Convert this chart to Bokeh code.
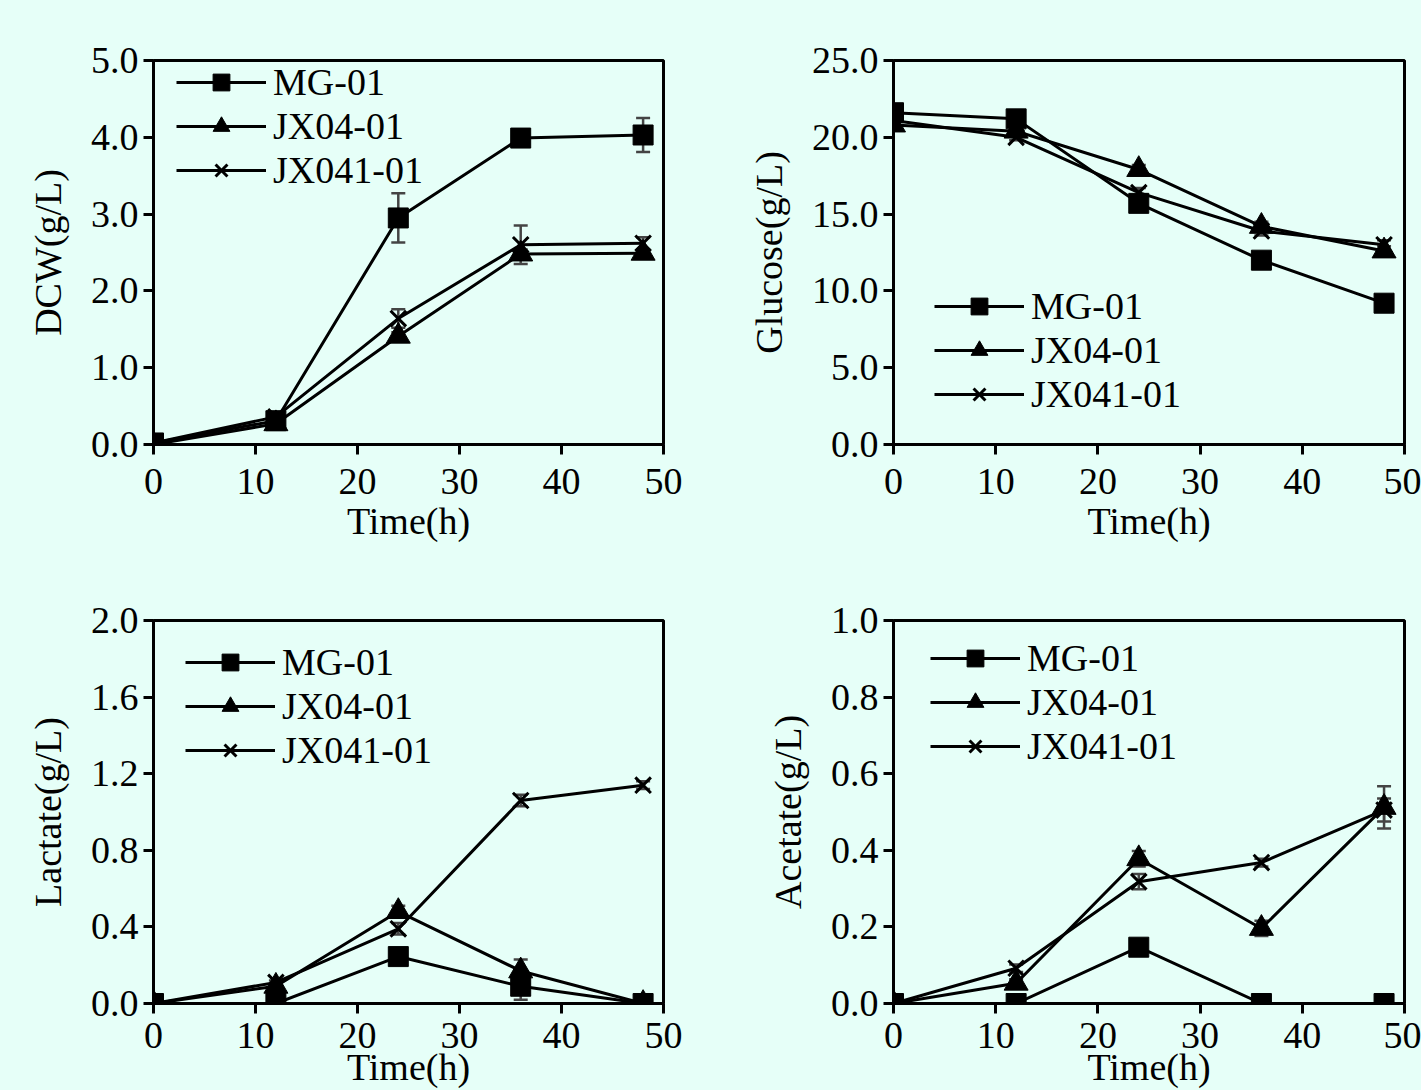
from bokeh.plotting import figure
from bokeh.layouts import gridplot
from bokeh.models import (Range1d, FixedTicker, ColumnDataSource, Whisker, TeeHead,
                          Legend, LegendItem)
from bokeh.embed import file_html
from bokeh.resources import INLINE

# ---------------- data ----------------
time_h = [0, 12, 24, 36, 48]
series_names = ["MG-01", "JX04-01", "JX041-01"]
x_ticks = [0, 10, 20, 30, 40, 50]
x_tick_labels = ["0", "10", "20", "30", "40", "50"]
x_label = "Time(h)"

dcw_mg = [0.02, 0.31, 2.95, 3.99, 4.03]
dcw_jx04 = [0.0, 0.27, 1.41, 2.48, 2.49]
dcw_jx041 = [0.02, 0.36, 1.64, 2.60, 2.62]
dcw_err_mg = [0, 0, 0.32, 0.06, 0.22]
dcw_err_jx04 = [0, 0, 0.05, 0.06, 0.05]
dcw_err_jx041 = [0, 0, 0.12, 0.25, 0.08]
dcw_ticks = [0, 1, 2, 3, 4, 5]
dcw_tick_labels = ["0.0", "1.0", "2.0", "3.0", "4.0", "5.0"]

glc_mg = [21.6, 21.2, 15.7, 12.0, 9.2]
glc_jx04 = [20.8, 20.4, 17.9, 14.2, 12.6]
glc_jx041 = [21.1, 20.0, 16.4, 13.9, 13.0]
glc_err_mg = [0, 0.2, 0.3, 0.3, 0.3]
glc_err_jx04 = [0, 0.2, 0.3, 0.3, 0.3]
glc_err_jx041 = [0, 0.2, 0.3, 0.3, 0.3]
glc_ticks = [0, 5, 10, 15, 20, 25]
glc_tick_labels = ["0.0", "5.0", "10.0", "15.0", "20.0", "25.0"]

lac_mg = [0.0, 0.0, 0.245, 0.09, 0.0]
lac_jx04 = [0.0, 0.09, 0.48, 0.17, 0.0]
lac_jx041 = [0.0, 0.11, 0.39, 1.06, 1.14]
lac_err_mg = [0, 0, 0.02, 0.07, 0]
lac_err_jx04 = [0, 0.01, 0.03, 0.06, 0]
lac_err_jx041 = [0, 0.01, 0.03, 0.03, 0.02]
lac_ticks = [0, 0.4, 0.8, 1.2, 1.6, 2.0]
lac_tick_labels = ["0.0", "0.4", "0.8", "1.2", "1.6", "2.0"]

ace_mg = [0.0, 0.0, 0.147, 0.0, 0.0]
ace_jx04 = [0.0, 0.053, 0.378, 0.196, 0.512]
ace_jx041 = [0.0, 0.092, 0.318, 0.368, 0.505]
ace_err_mg = [0, 0, 0.01, 0, 0]
ace_err_jx04 = [0, 0.01, 0.02, 0.02, 0.055]
ace_err_jx041 = [0, 0.01, 0.02, 0.01, 0.03]
ace_ticks = [0, 0.2, 0.4, 0.6, 0.8, 1.0]
ace_tick_labels = ["0.0", "0.2", "0.4", "0.6", "0.8", "1.0"]

# ---------------- style ----------------
BG = "#E6FFF8"
FONT = "Liberation Serif"
FS = "38px"
ERR = "#444444"
markers = ["square", "triangle", "x"]
marker_sizes = [20, 24, 22]


def panel(width, height, borders, y_max, y_ticks, y_tick_labels, y_label,
          values, errors, legend_loc, xtick_standoff, xlabel_standoff):
    left, right, top, bottom = borders
    p = figure(width=width, height=height, x_range=Range1d(0, 50), y_range=Range1d(0, y_max),
               output_backend="svg", toolbar_location=None,
               min_border_left=left, min_border_right=right,
               min_border_top=top, min_border_bottom=bottom,
               background_fill_color=BG, border_fill_color=BG,
               outline_line_color="black", outline_line_width=3)
    p.grid.visible = False
    p.xaxis.ticker = FixedTicker(ticks=x_ticks)
    p.xaxis.major_label_overrides = {t: l for t, l in zip(x_ticks, x_tick_labels)}
    p.yaxis.ticker = FixedTicker(ticks=y_ticks)
    p.yaxis.major_label_overrides = {t: l for t, l in zip(y_ticks, y_tick_labels)}
    for ax in (p.xaxis[0], p.yaxis[0]):
        ax.axis_line_width = 3
        ax.axis_line_color = "black"
        ax.major_tick_line_width = 3
        ax.major_tick_line_color = "black"
        ax.major_tick_out = 10
        ax.major_tick_in = 0
        ax.minor_tick_line_color = None
        ax.major_label_text_font = FONT
        ax.major_label_text_font_size = FS
        ax.major_label_text_color = "black"
        ax.axis_label_text_font = FONT
        ax.axis_label_text_font_size = FS
        ax.axis_label_text_font_style = "normal"
        ax.axis_label_text_color = "black"
    p.yaxis.axis_label = y_label
    p.yaxis.major_label_standoff = 5
    p.yaxis.axis_label_standoff = 19
    p.xaxis.axis_label = x_label
    p.xaxis.major_label_standoff = xtick_standoff
    p.xaxis.axis_label_standoff = xlabel_standoff

    items = []
    for name, vals, errs, mk, sz in zip(series_names, values, errors, markers, marker_sizes):
        src = ColumnDataSource(dict(x=time_h, y=vals))
        ex = [t for t, e in zip(time_h, errs) if e > 0]
        lo = [v - e for v, e in zip(vals, errs) if e > 0]
        hi = [v + e for v, e in zip(vals, errs) if e > 0]
        if ex:
            esrc = ColumnDataSource(dict(x=ex, lo=lo, hi=hi))
            p.add_layout(Whisker(source=esrc, base="x", lower="lo", upper="hi",
                                 line_color=ERR, line_width=2.5,
                                 upper_head=TeeHead(size=14, line_color=ERR, line_width=2.5),
                                 lower_head=TeeHead(size=14, line_color=ERR, line_width=2.5)))
        r1 = p.line("x", "y", source=src, line_color="black", line_width=3)
        if mk == "x":
            r2 = p.scatter("x", "y", source=src, marker=mk, size=sz,
                           line_color="black", line_width=3)
        else:
            r2 = p.scatter("x", "y", source=src, marker=mk, size=sz,
                           fill_color="black", line_color="black", line_width=1)
        items.append(LegendItem(label=name, renderers=[r1, r2]))

    leg = Legend(items=items, location=legend_loc, glyph_width=90, glyph_height=42,
                 label_height=42, spacing=0, padding=0, margin=0, label_standoff=7,
                 label_text_font=FONT, label_text_font_size=FS, label_text_color="black",
                 background_fill_alpha=0, border_line_alpha=0)
    p.add_layout(leg)
    return p


p1 = panel(728, 560, (153, 65, 60, 116), 5, dcw_ticks, dcw_tick_labels, "DCW(g/L)",
           [dcw_mg, dcw_jx04, dcw_jx041], [dcw_err_mg, dcw_err_jx04, dcw_err_jx041],
           (23, 252), 14, 3)
p2 = panel(693, 560, (165, 17, 60, 116), 25, glc_ticks, glc_tick_labels, "Glucose(g/L)",
           [glc_mg, glc_jx04, glc_jx041], [glc_err_mg, glc_err_jx04, glc_err_jx041],
           (41, 28), 14, 3)
p3 = panel(728, 530, (153, 65, 60, 87), 2.0, lac_ticks, lac_tick_labels, "Lactate(g/L)",
           [lac_mg, lac_jx04, lac_jx041], [lac_err_mg, lac_err_jx04, lac_err_jx041],
           (32, 231), 9, -5)
p4 = panel(693, 530, (165, 17, 60, 87), 1.0, ace_ticks, ace_tick_labels, "Acetate(g/L)",
           [ace_mg, ace_jx04, ace_jx041], [ace_err_mg, ace_err_jx04, ace_err_jx041],
           (37, 235), 9, -5)

grid = gridplot([[p1, p2], [p3, p4]], toolbar_location=None)

html = file_html(grid, INLINE, title="Fermentation profiles")
html = html.replace("</head>", "<style>html, body {background: #E6FFF8;}</style></head>", 1)
open("out.html", "w").write(html)
